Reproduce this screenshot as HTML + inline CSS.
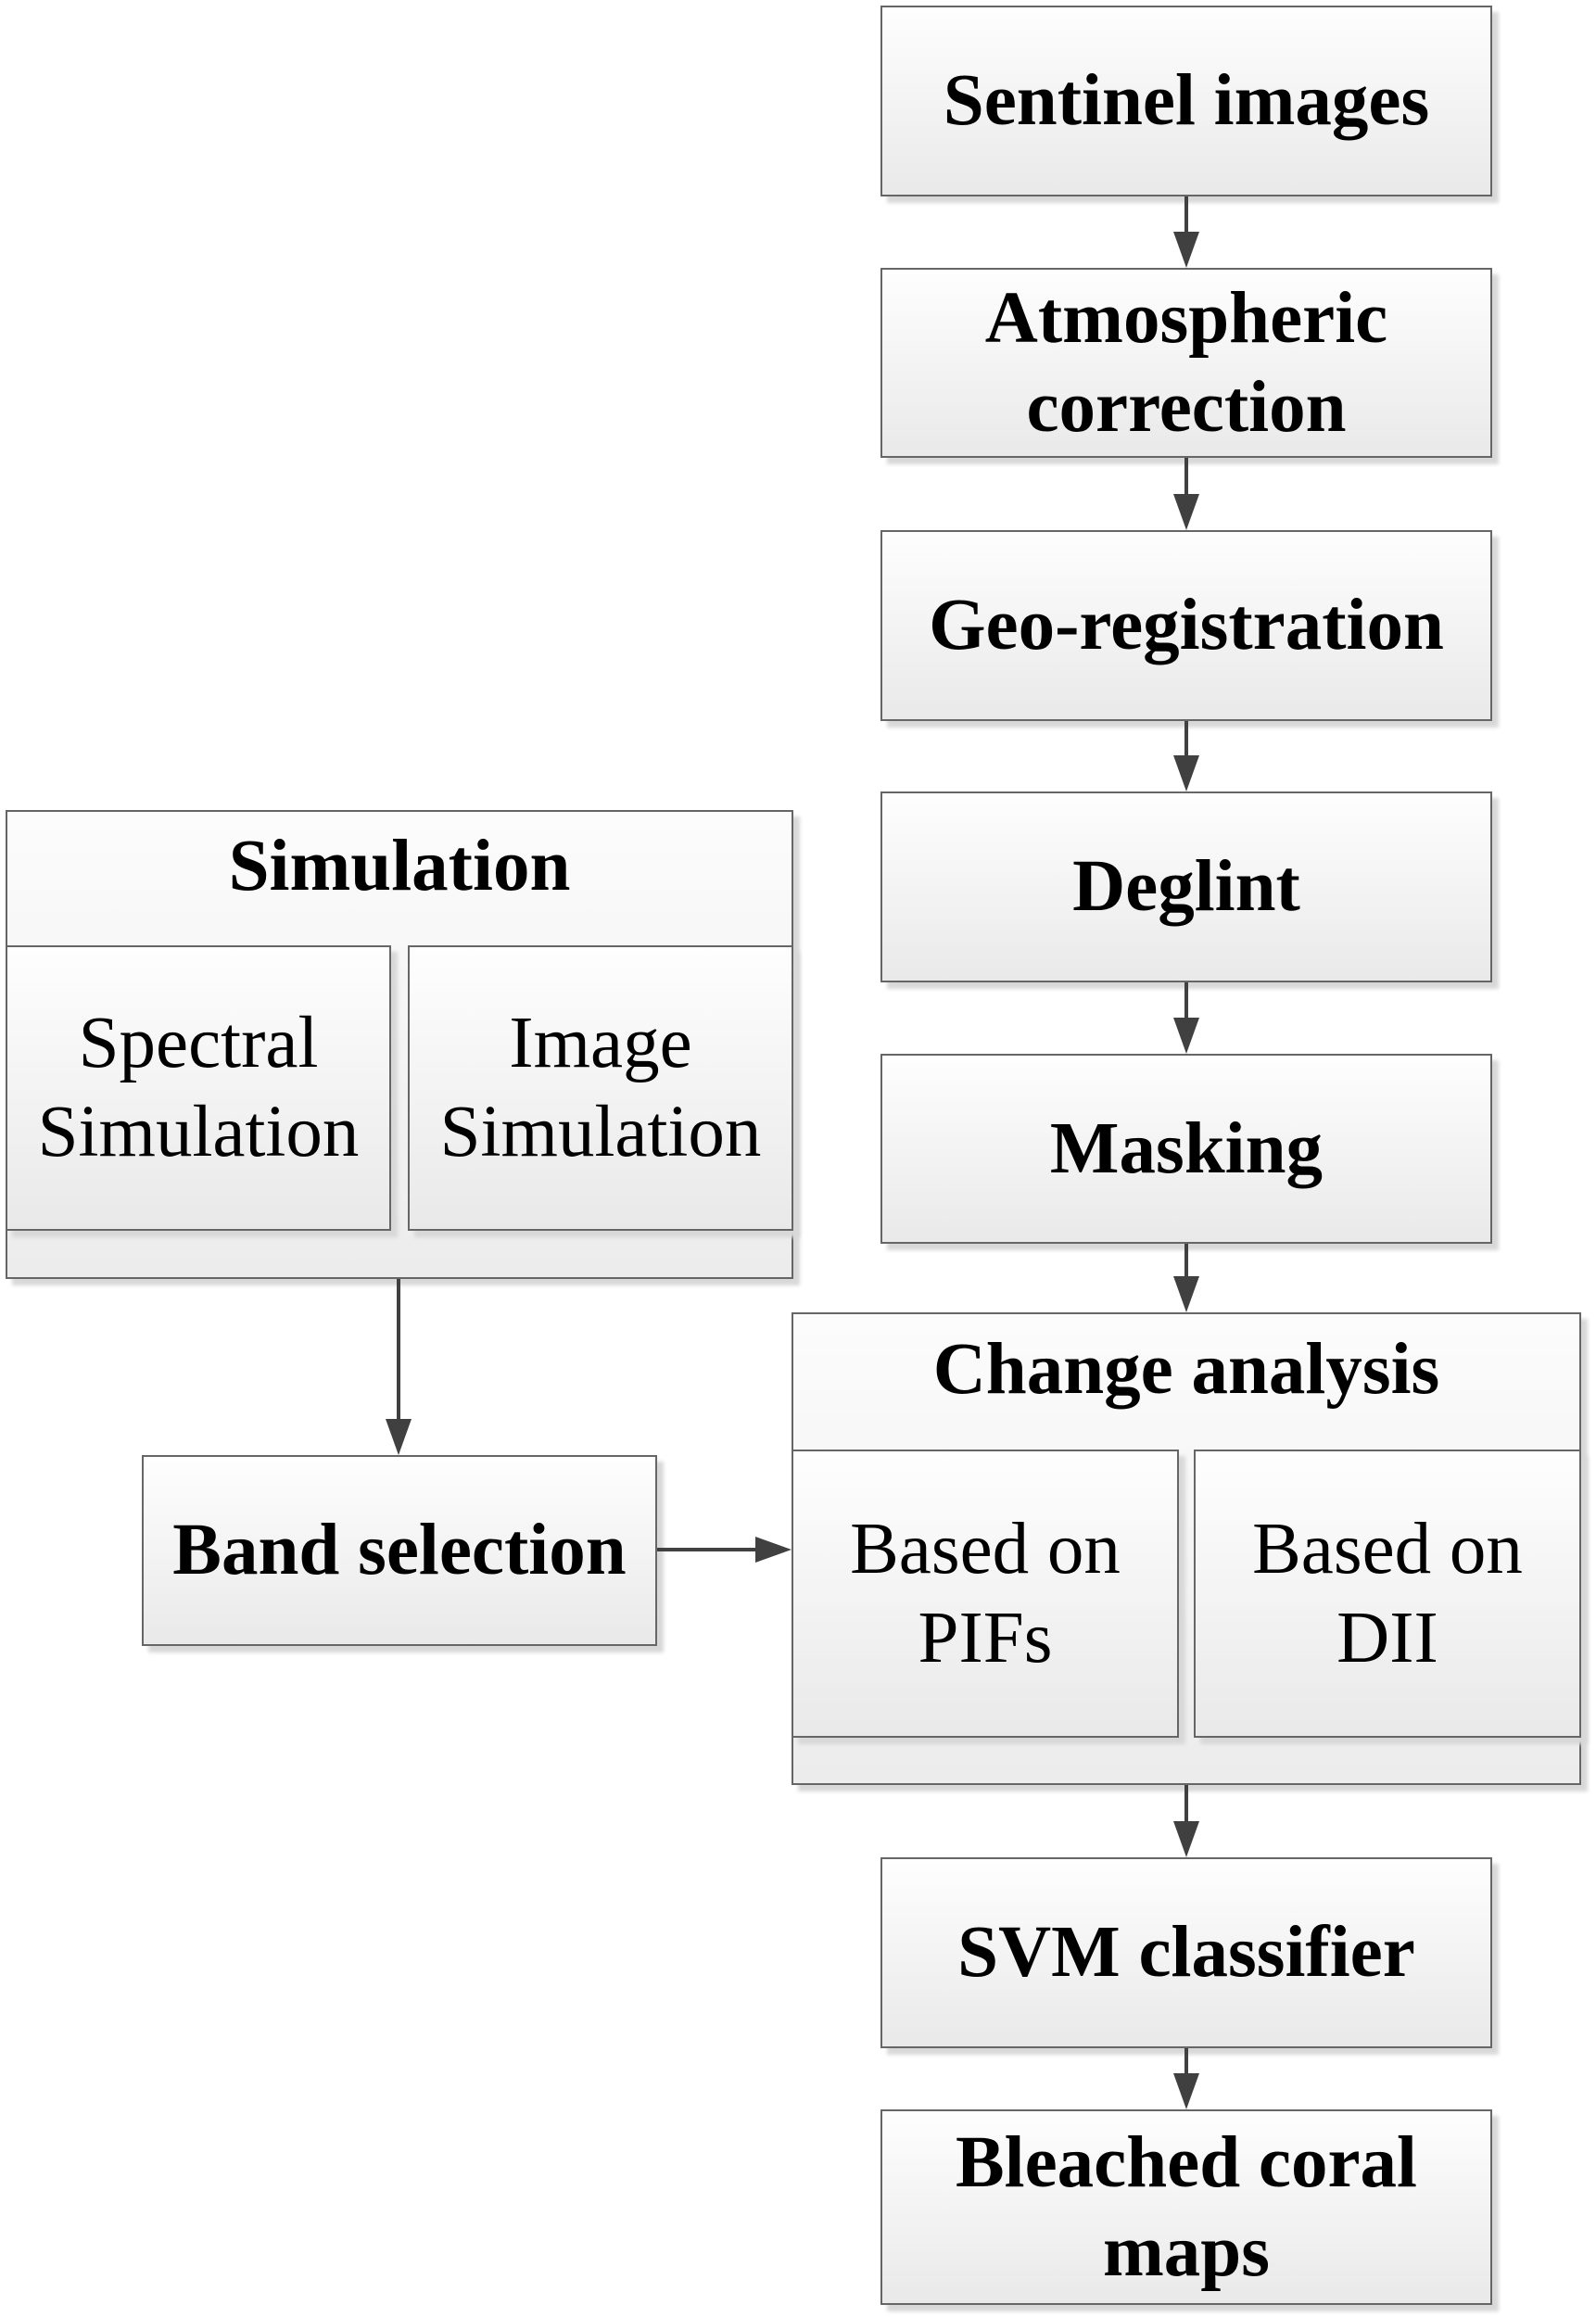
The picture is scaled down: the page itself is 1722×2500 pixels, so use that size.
<!DOCTYPE html>
<html><head><meta charset="utf-8"><style>
body{margin:0;width:1722px;height:2500px;background:#fff;position:relative;overflow:hidden;font-family:"Liberation Serif",serif;}
.b{position:absolute;box-sizing:border-box;border:2px solid #666;background:linear-gradient(#fefefe,#e9e9e9);box-shadow:7px 7px 4px #d8d8d8;display:flex;align-items:center;justify-content:center;text-align:center;font-size:79px;line-height:96px;color:#000;}
.bd{font-weight:bold;}
.c{position:absolute;box-sizing:border-box;border:2px solid #666;background:linear-gradient(#fcfcfc,#ececec);box-shadow:7px 7px 4px #d8d8d8;}
</style></head><body>
<div class="b bd" style="left:950px;top:6px;width:660px;height:206px">Sentinel images</div>
<div class="b bd" style="left:950px;top:289px;width:660px;height:205px">Atmospheric<br>correction</div>
<div class="b bd" style="left:950px;top:572px;width:660px;height:206px">Geo-registration</div>
<div class="b bd" style="left:950px;top:854px;width:660px;height:206px">Deglint</div>
<div class="b bd" style="left:950px;top:1137px;width:660px;height:205px">Masking</div>

<div class="c" style="left:854px;top:1416px;width:852px;height:510px"></div>
<div class="b bd" style="left:854px;top:1404px;width:852px;height:148px;box-shadow:none;background:transparent;border:none">Change analysis</div>
<div class="b" style="left:854px;top:1564px;width:418px;height:311px">Based on<br>PIFs</div>
<div class="b" style="left:1288px;top:1564px;width:418px;height:311px">Based on<br>DII</div>

<div class="b bd" style="left:950px;top:2004px;width:660px;height:206px">SVM classifier</div>
<div class="b bd" style="left:950px;top:2276px;width:660px;height:211px">Bleached coral<br>maps</div>

<div class="c" style="left:6px;top:874px;width:850px;height:506px"></div>
<div class="b bd" style="left:6px;top:862px;width:850px;height:146px;box-shadow:none;background:transparent;border:none">Simulation</div>
<div class="b" style="left:6px;top:1020px;width:416px;height:308px">Spectral<br>Simulation</div>
<div class="b" style="left:440px;top:1020px;width:416px;height:308px">Image<br>Simulation</div>

<div class="b bd" style="left:153px;top:1570px;width:556px;height:206px">Band selection</div>

<svg width="1722" height="2500" style="position:absolute;left:0;top:0" xmlns="http://www.w3.org/2000/svg">
<g stroke="#404040" stroke-width="4" fill="#404040">
<line x1="1280" y1="212" x2="1280" y2="252"/><path d="M1266,250L1294,250L1280,289z" stroke="none"/>
<line x1="1280" y1="494" x2="1280" y2="535"/><path d="M1266,533L1294,533L1280,572z" stroke="none"/>
<line x1="1280" y1="778" x2="1280" y2="817"/><path d="M1266,815L1294,815L1280,854z" stroke="none"/>
<line x1="1280" y1="1060" x2="1280" y2="1100"/><path d="M1266,1098L1294,1098L1280,1137z" stroke="none"/>
<line x1="1280" y1="1342" x2="1280" y2="1379"/><path d="M1266,1377L1294,1377L1280,1416z" stroke="none"/>
<line x1="1280" y1="1926" x2="1280" y2="1967"/><path d="M1266,1965L1294,1965L1280,2004z" stroke="none"/>
<line x1="1280" y1="2210" x2="1280" y2="2239"/><path d="M1266,2237L1294,2237L1280,2276z" stroke="none"/>
<line x1="430" y1="1380" x2="430" y2="1533"/><path d="M416,1531L444,1531L430,1570z" stroke="none"/>
<line x1="709" y1="1672" x2="817" y2="1672"/><path d="M815,1658L815,1686L854,1672z" stroke="none"/>
</g></svg>
</body></html>
